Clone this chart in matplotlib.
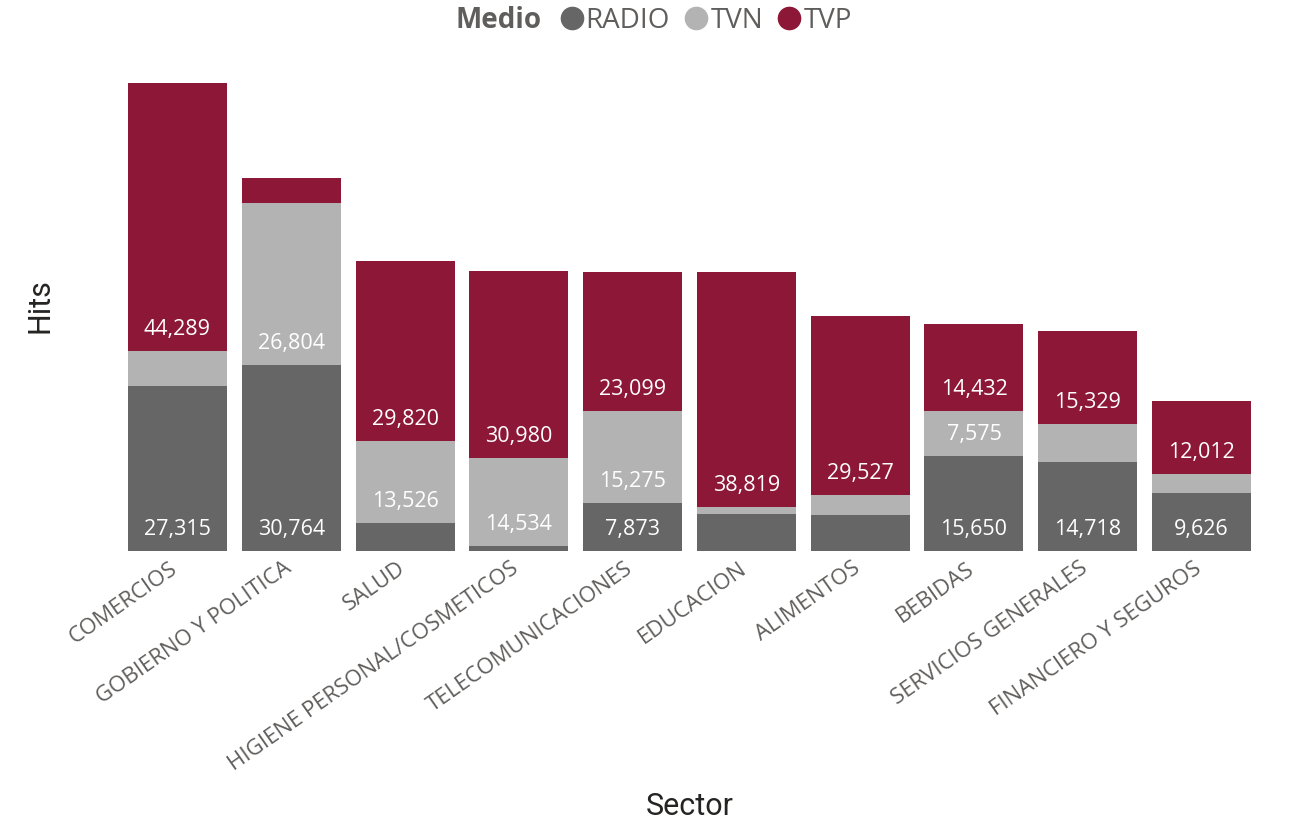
import matplotlib.pyplot as plt
import matplotlib.transforms as mtransforms
import numpy as np
from matplotlib.lines import Line2D

sectors = ['COMERCIOS', 'GOBIERNO Y POLITICA', 'SALUD', 'HIGIENE PERSONAL/COSMETICOS',
           'TELECOMUNICACIONES', 'EDUCACION', 'ALIMENTOS', 'BEBIDAS',
           'SERVICIOS GENERALES', 'FINANCIERO Y SEGUROS']
radio = [27315, 30764, 4660, 830, 7873, 6160, 6000, 15650, 14718, 9626]
tvn = [5830, 26804, 13526, 14534, 15275, 1170, 3330, 7575, 6330, 3160]
tvp = [44289, 4160, 29820, 30980, 23099, 38819, 29527, 14432, 15329, 12012]

series = [('RADIO', radio, '#666666'), ('TVN', tvn, '#b3b3b3'), ('TVP', tvp, '#8c1736')]

plt.rcParams['font.family'] = ['Open Sans', 'DejaVu Sans']

fig = plt.figure(figsize=(12.94, 8.25), dpi=100)
ax = fig.add_axes([0.0932, 0.3321, 0.8793, 0.5952])

x = np.arange(len(sectors))
bottom = np.zeros(len(sectors))
for name, vals, color in series:
    vals = np.array(vals, dtype=float)
    ax.bar(x, vals, 0.87, bottom=bottom, color=color, label=name)
    for xi, b, v in zip(x, bottom, vals):
        if v >= 7000:
            ax.annotate(f'{int(v):,}', (xi, b), xytext=(0, 15.5), textcoords='offset points',
                        ha='center', va='center', color='white', fontsize=15.5)
    bottom += vals

ax.set_xlim(-0.5, len(sectors) - 0.5)
ax.set_ylim(0, 81300)
ax.set_yticks([])
ax.set_xticks(x)
ax.set_xticklabels(sectors, rotation=35, ha='right', rotation_mode='anchor',
                   fontsize=16, color='#605e5c')
ax.tick_params(axis='x', length=0, pad=5)
shift = mtransforms.ScaledTranslation(-8 / 100, 0, fig.dpi_scale_trans)
for lbl in ax.get_xticklabels():
    lbl.set_transform(lbl.get_transform() + shift)
for s in ax.spines.values():
    s.set_visible(False)

ax.set_xlabel('Sector', fontsize=22, color='#252423', family='Roboto')
ax.set_ylabel('Hits', fontsize=22, color='#252423', family='Roboto')
ax.xaxis.set_label_coords(0.5, -0.49)
ax.yaxis.set_label_coords(-0.058, 0.5)

fig.text(0.4185, 0.975, 'Medio', ha='right', va='center', fontsize=20,
         fontweight='bold', color='#605e5c')
handles = [Line2D([], [], marker='o', linestyle='', markersize=16, color=c) for _, _, c in series]
leg = fig.legend(handles, [n for n, _, _ in series], loc='center left',
                 bbox_to_anchor=(0.4215, 0.975), ncol=3, frameon=False, fontsize=20,
                 handletextpad=0.05, columnspacing=0.5, handlelength=0.9, borderpad=0)
for t in leg.get_texts():
    t.set_color('#605e5c')

fig.savefig('out.png', dpi=100)
